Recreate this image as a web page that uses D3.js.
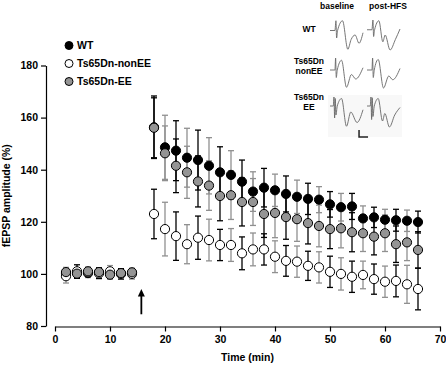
<!DOCTYPE html>
<html>
<head>
<meta charset="utf-8">
<script src="https://cdn.jsdelivr.net/npm/d3@7"></script>
<style>
  body { margin: 0; background: #fff; }
  text { font-family: "Liberation Sans", Arial, sans-serif; font-weight: bold; fill: #000; }
</style>
</head>
<body>
<div id="chart"></div>
<script>
// time points (min)
var time = [2, 4, 6, 8, 10, 12, 14,
  18, 20, 22, 24, 26, 28, 30, 32, 34, 36, 38, 40, 42, 44, 46, 48, 50, 52, 54, 56, 58, 60, 62, 64, 66];

// fEPSP amplitude (%) and SEM
var wtMean = [100.3, 100.4, 100.3, 100.6, 100.1, 100.2, 100.4,
  156.3, 148.6, 147.3, 144.6, 143.7, 141.5, 139.0, 138.0, 135.4, 131.6, 133.1, 132.1, 130.7, 129.6,
  128.8, 128.5, 126.7, 125.6, 125.9, 121.3, 121.7, 120.8, 120.6, 120.4, 119.9];
var wtSem = [1.5, 1.5, 1.5, 1.5, 1.5, 1.5, 1.5,
  12.0, 12.3, 11.5, 11.3, 11.5, 10.8, 9.8, 9.3, 8.3, 7.6, 7.4, 6.2, 6.9, 6.4,
  6.0, 5.0, 4.9, 5.3, 5.0, 4.8, 3.9, 4.0, 4.2, 4.1, 4.2];

var nonEEMean = [99.1, 101.0, 100.6, 100.2, 101.0, 100.0, 100.0,
  123.0, 117.2, 114.5, 111.4, 113.9, 113.0, 111.1, 111.1, 107.9, 109.4, 109.4, 106.6, 105.0, 104.7,
  103.1, 102.5, 100.8, 100.0, 98.9, 99.6, 98.0, 97.0, 97.3, 96.0, 94.2];
var nonEESem = [2.6, 2.5, 2.0, 2.0, 2.2, 2.0, 2.0,
  9.5, 10.3, 9.3, 7.5, 8.3, 8.0, 6.0, 6.3, 6.3, 6.3, 6.0, 6.1, 5.9, 6.0,
  5.6, 6.0, 6.0, 6.2, 6.0, 5.3, 5.8, 6.0, 6.1, 7.3, 8.0];

var eeMean = [100.7, 100.1, 101.0, 100.7, 99.7, 100.3, 100.6,
  156.1, 146.3, 141.5, 139.0, 135.5, 133.9, 129.9, 130.2, 127.6, 127.6, 123.0, 123.4, 121.8, 121.0,
  119.5, 118.4, 117.2, 117.5, 116.0, 115.6, 114.3, 115.6, 111.4, 112.1, 109.2];
var eeSem = [1.8, 1.8, 1.6, 1.6, 1.8, 1.6, 1.6,
  11.5, 10.5, 10.3, 10.0, 9.8, 9.5, 9.5, 9.3, 9.2, 9.0, 9.0, 9.5, 8.5, 8.5,
  8.0, 8.0, 7.5, 7.5, 7.5, 7.0, 7.0, 7.0, 7.0, 7.0, 7.0];

var seriesNames = ["WT", "Ts65Dn-nonEE", "Ts65Dn-EE"];
var xTicks = [0, 10, 20, 30, 40, 50, 60, 70];
var yTicks = [80, 100, 120, 140, 160, 180];
var hfsTime = 15.7;

// example traces: [time (ms), mV normalised]
var traceWTBase = [[0, 0.3], [1.5, 0.3], [1.8, 0.95], [2.0, -0.2], [2.3, 0.3], [3.8, 0.95], [5.4, -0.95], [6.4, -0.3], [7.6, 0.0], [8.8, -0.55], [10, 0.15]];
var traceWTPost = [[0, 0.35], [1.5, 0.35], [1.8, 1.0], [2.0, -0.1], [2.3, 0.35], [3.6, 0.95], [4.8, -0.45], [5.5, 0.0], [7.0, -1.0], [8.6, -0.3], [10, 0.4]];
var traceNonBase = [[0, 0.2], [1.5, 0.2], [1.7, 1.0], [1.9, -0.3], [2.2, 0.2], [3.5, 0.85], [5.0, -0.95], [6.5, -0.1], [7.8, -0.4], [10, 0.35]];
var traceNonPost = [[0, 0.2], [1.5, 0.2], [1.7, 1.0], [1.9, -0.3], [2.2, 0.2], [3.4, 0.9], [5.0, -1.0], [6.6, -0.2], [7.8, -0.45], [10, 0.3]];
var traceEEBase = [[0, 0.4], [1.0, 0.4], [1.2, 1.0], [1.4, -0.4], [1.6, 0.9], [1.8, -0.2], [2.2, 0.4], [3.5, 0.9], [5.0, -0.95], [6.3, 0.0], [8.2, -0.7], [10, 0.15]];
var traceEEPost = [[0, 0.4], [1.0, 0.4], [1.2, 1.0], [1.4, -0.5], [1.6, 0.95], [1.8, -0.3], [2.2, 0.4], [3.4, 0.9], [4.7, -0.6], [5.4, -0.1], [6.8, -1.0], [8.4, -0.2], [10, 0.3]];

var width = 446, height = 366;

var svg = d3.select("#chart").append("svg")
  .attr("width", width)
  .attr("height", height);

var x = d3.scaleLinear().domain([0, 70]).range([55, 440]);
var y = d3.scaleLinear().domain([80, 180]).range([326, 65.5]);

var fills = ["#000", "#fff", "#949494"];
var barColors = ["#909090", "#000"];

var series = [
  { name: seriesNames[0], mean: wtMean, sem: wtSem, fill: fills[0] },
  { name: seriesNames[1], mean: nonEEMean, sem: nonEESem, fill: fills[1] },
  { name: seriesNames[2], mean: eeMean, sem: eeSem, fill: fills[2] }
];

// axes
var yAxis = d3.axisLeft(y).tickValues(yTicks).tickSize(5).tickSizeOuter(0).tickPadding(3);
var xAxis = d3.axisBottom(x).tickValues(xTicks).tickSize(5).tickSizeOuter(0).tickPadding(4);

var gy = svg.append("g")
  .attr("transform", "translate(46,0)")
  .call(yAxis);
var gx = svg.append("g")
  .attr("transform", "translate(0,326.5)")
  .call(xAxis);

[gx, gy].forEach(function(g) {
  g.selectAll("path, line").attr("stroke", "#000").attr("stroke-width", 1.2);
  g.selectAll("text")
    .style("font-family", "'Liberation Sans', Arial, sans-serif")
    .style("font-weight", "bold")
    .style("font-size", "10.5px")
    .attr("fill", "#000");
});

svg.append("text")
  .attr("transform", "translate(10," + ((y(80) + y(180)) / 2) + ") rotate(-90)")
  .attr("text-anchor", "middle")
  .style("font-size", "10.5px")
  .text("fEPSP amplitude (%)");

svg.append("text")
  .attr("x", (x(0) + x(70)) / 2)
  .attr("y", 361)
  .attr("text-anchor", "middle")
  .style("font-size", "10.5px")
  .text("Time (min)");

// error bars
var cap = 3;
series.forEach(function(s) {
  var g = svg.append("g").attr("class", "errbars");
  time.forEach(function(t, i) {
    var c = barColors[i % 2];
    var cx = x(t), y0 = y(s.mean[i] - s.sem[i]), y1 = y(s.mean[i] + s.sem[i]);
    g.append("line").attr("x1", cx).attr("x2", cx).attr("y1", y0).attr("y2", y1)
      .attr("stroke", c).attr("stroke-width", 1.3);
    g.append("line").attr("x1", cx - cap).attr("x2", cx + cap).attr("y1", y0).attr("y2", y0)
      .attr("stroke", c).attr("stroke-width", 1.3);
    g.append("line").attr("x1", cx - cap).attr("x2", cx + cap).attr("y1", y1).attr("y2", y1)
      .attr("stroke", c).attr("stroke-width", 1.3);
  });
});

// points
series.forEach(function(s) {
  svg.append("g").selectAll("circle")
    .data(time)
    .enter().append("circle")
    .attr("cx", function(d) { return x(d); })
    .attr("cy", function(d, i) { return y(s.mean[i]); })
    .attr("r", 4.6)
    .attr("fill", s.fill)
    .attr("stroke", "#000")
    .attr("stroke-width", 1);
});

// HFS arrow
var ax = x(hfsTime);
svg.append("line")
  .attr("x1", ax).attr("x2", ax)
  .attr("y1", y(84.5)).attr("y2", y(92))
  .attr("stroke", "#000").attr("stroke-width", 1.8);
svg.append("path")
  .attr("d", "M" + ax + "," + y(94.2) + "L" + (ax - 3.5) + "," + y(91.3) + "L" + (ax + 3.5) + "," + y(91.3) + "Z")
  .attr("fill", "#000");

// legend
var legend = svg.selectAll(".legend")
  .data(series)
  .enter().append("g")
  .attr("class", "legend")
  .attr("transform", function(d, i) { return "translate(69," + (45.5 + i * 18) + ")"; });

legend.append("circle")
  .attr("r", 4)
  .attr("fill", function(d) { return d.fill; })
  .attr("stroke", "#000")
  .attr("stroke-width", 1);

legend.append("text")
  .attr("x", 8)
  .attr("dy", "0.36em")
  .style("font-size", "10.5px")
  .text(function(d) { return d.name; });

// inset with example traces
var inset = svg.append("g").attr("class", "inset");

inset.append("rect")
  .attr("x", 328).attr("y", 95).attr("width", 74).attr("height", 42)
  .attr("fill", "#f8f8f8");

inset.append("text").attr("x", 337).attr("y", 9).attr("text-anchor", "middle")
  .style("font-size", "8.5px").text("baseline");
inset.append("text").attr("x", 388).attr("y", 9).attr("text-anchor", "middle")
  .style("font-size", "8.5px").text("post-HFS");

var rowLabels = [["WT"], ["Ts65Dn", "nonEE"], ["Ts65Dn", "EE"]];
var rowY = [20, 58, 97];
var rowLabelY = [32, 64, 99.5];
rowLabels.forEach(function(lines, r) {
  var t = inset.append("text").attr("text-anchor", "middle").style("font-size", "8.5px");
  lines.forEach(function(l, j) {
    t.append("tspan").attr("x", 309).attr("y", rowLabelY[r] + j * 10).text(l);
  });
});

var traces = [
  [traceWTBase, traceWTPost],
  [traceNonBase, traceNonPost],
  [traceEEBase, traceEEPost]
];
var colX = [330, 367];
var tx = d3.scaleLinear().domain([0, 10]);
var tv = d3.scaleLinear().domain([-1, 1]);

traces.forEach(function(row, r) {
  row.forEach(function(tr, c) {
    tx.range([colX[c], colX[c] + 33]);
    tv.range([rowY[r] + 30, rowY[r]]);
    var line = d3.line()
      .curve(d3.curveMonotoneX)
      .x(function(d) { return tx(d[0]); })
      .y(function(d) { return tv(d[1]); });
    inset.append("path")
      .attr("d", line(tr))
      .attr("fill", "none")
      .attr("stroke", "#666")
      .attr("stroke-width", 0.9);
  });
});

// scale bar
tx.range([colX[0], colX[0] + 33]);
tv.range([rowY[2] + 30, rowY[2]]);
var sbX = tx(8.8), sbY = tv(-1) + 10;
inset.append("path")
  .attr("d", "M" + sbX + "," + (sbY - 7) + "V" + sbY + "H" + (sbX + 9))
  .attr("fill", "none")
  .attr("stroke", "#222")
  .attr("stroke-width", 1.5);
</script>
</body>
</html>
